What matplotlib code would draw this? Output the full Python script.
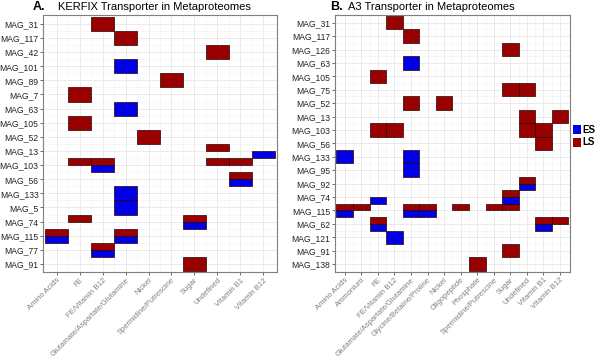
import matplotlib.pyplot as plt
from matplotlib.patches import Patch

plt.rcParams['font.family'] = ['Liberation Sans', 'DejaVu Sans']

# Panel A data
mags_a = ["MAG_31", "MAG_117", "MAG_42", "MAG_101", "MAG_89", "MAG_7", "MAG_63",
          "MAG_105", "MAG_52", "MAG_13", "MAG_103", "MAG_56", "MAG_133", "MAG_5",
          "MAG_74", "MAG_115", "MAG_77", "MAG_91"]
cats_a = ["Amino Acids", "FE", "FE/Vitamin B12", "Glutamate/Aspartate/Glutamine",
          "Nickel", "Spermidine/Putrescine", "Sugar", "Undefined", "Vitamin B1",
          "Vitamin B12"]
ls_a = [("MAG_31", "FE/Vitamin B12"), ("MAG_117", "Glutamate/Aspartate/Glutamine"),
        ("MAG_42", "Undefined"), ("MAG_89", "Spermidine/Putrescine"), ("MAG_7", "FE"),
        ("MAG_105", "FE"), ("MAG_52", "Nickel"), ("MAG_13", "Undefined"),
        ("MAG_103", "FE"), ("MAG_103", "FE/Vitamin B12"), ("MAG_103", "Undefined"),
        ("MAG_103", "Vitamin B1"), ("MAG_56", "Vitamin B1"), ("MAG_74", "FE"),
        ("MAG_74", "Sugar"), ("MAG_115", "Amino Acids"),
        ("MAG_115", "Glutamate/Aspartate/Glutamine"), ("MAG_77", "FE/Vitamin B12"),
        ("MAG_91", "Sugar")]
es_a = [("MAG_101", "Glutamate/Aspartate/Glutamine"),
        ("MAG_63", "Glutamate/Aspartate/Glutamine"), ("MAG_13", "Vitamin B12"),
        ("MAG_103", "FE/Vitamin B12"), ("MAG_56", "Vitamin B1"),
        ("MAG_133", "Glutamate/Aspartate/Glutamine"),
        ("MAG_5", "Glutamate/Aspartate/Glutamine"), ("MAG_74", "Sugar"),
        ("MAG_115", "Amino Acids"), ("MAG_115", "Glutamate/Aspartate/Glutamine"),
        ("MAG_77", "FE/Vitamin B12")]

# Panel B data
mags_b = ["MAG_31", "MAG_117", "MAG_126", "MAG_63", "MAG_105", "MAG_75", "MAG_52",
          "MAG_13", "MAG_103", "MAG_56", "MAG_133", "MAG_95", "MAG_92", "MAG_74",
          "MAG_115", "MAG_62", "MAG_121", "MAG_91", "MAG_138"]
cats_b = ["Amino Acids", "Ammonium", "FE", "FE/Vitamin B12",
          "Glutamate/Aspartate/Glutamine", "Glycine/Betaine/Proline", "Nickel",
          "Oligopeptide", "Phosphate", "Spermidine/Putrescine", "Sugar", "Undefined",
          "Vitamin B1", "Vitamin B12"]
ls_b = [("MAG_31", "FE/Vitamin B12"), ("MAG_117", "Glutamate/Aspartate/Glutamine"),
        ("MAG_126", "Sugar"), ("MAG_105", "FE"), ("MAG_75", "Sugar"),
        ("MAG_75", "Undefined"), ("MAG_52", "Glutamate/Aspartate/Glutamine"),
        ("MAG_52", "Nickel"), ("MAG_13", "Undefined"), ("MAG_13", "Vitamin B12"),
        ("MAG_103", "FE"), ("MAG_103", "FE/Vitamin B12"), ("MAG_103", "Undefined"),
        ("MAG_103", "Vitamin B1"), ("MAG_56", "Vitamin B1"), ("MAG_92", "Undefined"),
        ("MAG_74", "Sugar"), ("MAG_115", "Amino Acids"), ("MAG_115", "Ammonium"),
        ("MAG_115", "Glutamate/Aspartate/Glutamine"),
        ("MAG_115", "Glycine/Betaine/Proline"), ("MAG_115", "Oligopeptide"),
        ("MAG_115", "Spermidine/Putrescine"), ("MAG_115", "Sugar"),
        ("MAG_62", "FE"), ("MAG_62", "Vitamin B1"), ("MAG_62", "Vitamin B12"),
        ("MAG_91", "Sugar"), ("MAG_138", "Phosphate")]
es_b = [("MAG_63", "Glutamate/Aspartate/Glutamine"), ("MAG_133", "Amino Acids"),
        ("MAG_133", "Glutamate/Aspartate/Glutamine"),
        ("MAG_95", "Glutamate/Aspartate/Glutamine"), ("MAG_92", "Undefined"),
        ("MAG_74", "FE"), ("MAG_74", "Sugar"), ("MAG_115", "Amino Acids"),
        ("MAG_115", "Glutamate/Aspartate/Glutamine"),
        ("MAG_115", "Glycine/Betaine/Proline"), ("MAG_62", "FE"),
        ("MAG_62", "Vitamin B1"), ("MAG_121", "FE/Vitamin B12")]

es_color = "#0000e6"
ls_color = "#990000"


def draw_panel(ax, mags, cats, ls, es):
    ls_rows = set(m for m, c in ls)
    es_rows = set(m for m, c in es)
    both = ls_rows & es_rows
    for entries, color, stage in [(ls, ls_color, "LS"), (es, es_color, "ES")]:
        for m, c in entries:
            y = mags.index(m)
            x = cats.index(c)
            if m in both:
                # LS in upper half, ES in lower half
                bottom = y - 0.5 if stage == "LS" else y
                h = 0.5
            else:
                bottom = y - 0.5
                h = 1.0
            ax.bar(x, h, bottom=bottom, width=1.0, color=color,
                   edgecolor="#2b0000", linewidth=0.5, zorder=3)
    ax.set_xlim(-0.6, len(cats) - 0.4)
    ax.set_ylim(len(mags) - 0.4, -0.6)
    ax.set_xticks(range(len(cats)))
    ax.set_xticklabels(cats, rotation=45, ha="right", rotation_mode="anchor",
                       fontsize=5.5, color="#7f7f7f")
    ax.set_yticks(range(len(mags)))
    ax.set_yticklabels(mags, fontsize=6.2, color="#222222")
    ax.set_xticks([i + 0.5 for i in range(len(cats) - 1)], minor=True)
    ax.set_yticks([i + 0.5 for i in range(len(mags) - 1)], minor=True)
    ax.grid(which="major", color="#e6e6e6", linewidth=0.6, zorder=0)
    ax.grid(which="minor", color="#f2f2f2", linewidth=0.4, zorder=0)
    ax.tick_params(which="major", length=2.2, width=0.5, color="#333333", pad=1)
    ax.tick_params(which="minor", length=0)
    for s in ax.spines.values():
        s.set_color("#7f7f7f")
        s.set_linewidth(0.8)
    ax.set_axisbelow(True)


fig = plt.figure(figsize=(6, 3.58), dpi=100)
ax_a = fig.add_axes([0.0717, 0.239, 0.39, 0.718])
ax_b = fig.add_axes([0.558, 0.240, 0.392, 0.719])

draw_panel(ax_a, mags_a, cats_a, ls_a, es_a)
draw_panel(ax_b, mags_b, cats_b, ls_b, es_b)

# panel titles
ty = 1 - 7.5 / 358
fig.text(33 / 600, ty, "A.", fontsize=9, fontweight="bold", ha="left", va="center")
fig.text(58 / 600, ty, "KERFIX Transporter in Metaproteomes", fontsize=8,
         ha="left", va="center")
fig.text(330 / 600, ty, "B.", fontsize=9, fontweight="bold", ha="left", va="center")
fig.text(348 / 600, ty, "A3 Transporter in Metaproteomes", fontsize=8,
         ha="left", va="center")

handles = [Patch(facecolor=es_color, edgecolor="none", label="ES"),
           Patch(facecolor=ls_color, edgecolor="none", label="LS")]
leg = fig.legend(handles=handles, loc="center left", bbox_to_anchor=(0.955, 0.62),
                 frameon=False, handlelength=0.85, handleheight=1.0,
                 handletextpad=0.15, labelspacing=0.3, borderaxespad=0,
                 borderpad=0, prop={"weight": "bold", "size": 7})

fig.savefig("out.png", dpi=100)
